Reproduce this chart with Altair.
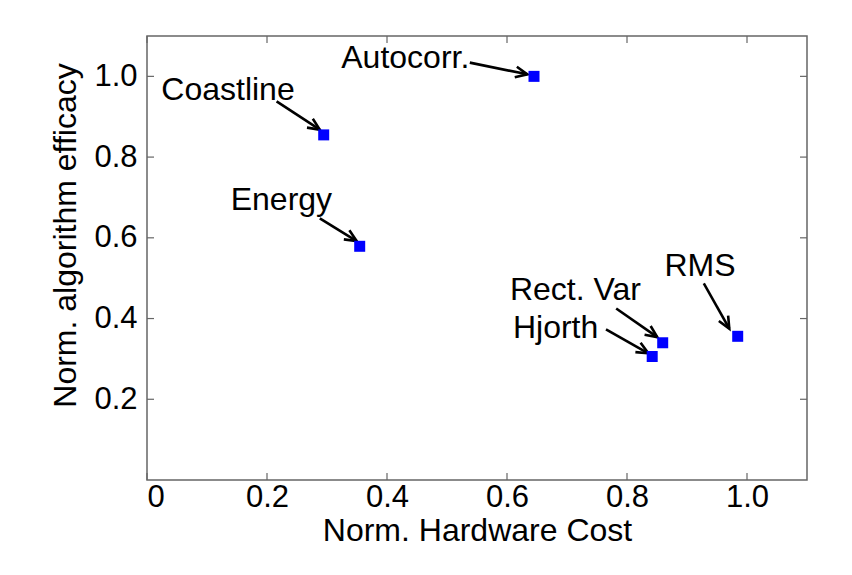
import math
import altair as alt
import pandas as pd

# data points
names = ["Autocorr.", "Coastline", "Energy", "Rect. Var", "Hjorth", "RMS"]
hw_cost = [0.645, 0.2945, 0.3545, 0.8595, 0.842, 0.9845]
efficacy = [1.0, 0.855, 0.579, 0.340, 0.306, 0.356]

# annotation label anchor positions (data coords)
label_x = [0.4305, 0.135, 0.224, 0.714, 0.681, 0.9217]
label_y = [1.020, 0.942, 0.668, 0.445, 0.353, 0.505]

# arrow start / end (data coords)
arrow_x0 = [0.538, 0.216, 0.288, 0.782, 0.765, 0.928]
arrow_y0 = [1.034, 0.938, 0.648, 0.425, 0.373, 0.487]
arrow_x1 = [0.634, 0.288, 0.3495, 0.8505, 0.8355, 0.9705]
arrow_y1 = [1.005, 0.868, 0.592, 0.354, 0.314, 0.375]

x_ticks = [0, 0.2, 0.4, 0.6, 0.8, 1.0]
y_ticks = [0.2, 0.4, 0.6, 0.8, 1.0]

W, H = 660, 444
XDOM = [0, 1.1]
YDOM = [0, 1.1]
FONT = "Liberation Sans"
AXC = "#666666"

# arrowhead angle in screen space
angles = []
for xa, ya, xb, yb in zip(arrow_x0, arrow_y0, arrow_x1, arrow_y1):
    dx = (xb - xa) / (XDOM[1] - XDOM[0]) * W
    dy = -(yb - ya) / (YDOM[1] - YDOM[0]) * H
    angles.append(math.degrees(math.atan2(dy, dx)) % 360)

pts = pd.DataFrame({"name": names, "x": hw_cost, "y": efficacy})
ann = pd.DataFrame({
    "name": names, "lx": label_x, "ly": label_y,
    "x0": arrow_x0, "y0": arrow_y0, "x1": arrow_x1, "y1": arrow_y1,
    "angle": angles,
})
xt = pd.DataFrame({"v": x_ticks})
yt = pd.DataFrame({"v": y_ticks})

xscale = alt.Scale(domain=XDOM, nice=False, zero=False)
yscale = alt.Scale(domain=YDOM, nice=False, zero=False)

xaxis = alt.Axis(
    title="Norm. Hardware Cost", values=x_ticks,
    labelExpr="datum.value == 0 ? '0' : format(datum.value, '.1f')",
    domain=False, ticks=False, tickSize=0, grid=False,
    labelFont=FONT, labelFontSize=31, labelColor="black", labelPadding=2,
    titleFont=FONT, titleFontSize=32, titleFontWeight="normal", titleColor="black",
    titleX=330, titleY=60, titleBaseline="alphabetic", titleAlign="center",
)
yaxis = alt.Axis(
    title="Norm. algorithm efficacy", values=y_ticks, format=".1f",
    domain=False, ticks=False, tickSize=0, grid=False,
    labelFont=FONT, labelFontSize=31, labelColor="black", labelPadding=10,
    titleFont=FONT, titleFontSize=32, titleFontWeight="normal", titleColor="black",
    titleX=-72, titleY=199, titleAngle=270, titleBaseline="alphabetic", titleAlign="center",
)

points = alt.Chart(pts).mark_square(size=121, color="#0000FF", opacity=1).encode(
    x=alt.X("x:Q", scale=xscale, axis=xaxis),
    y=alt.Y("y:Q", scale=yscale, axis=yaxis),
)

arrows = alt.Chart(ann).mark_rule(color="black", strokeWidth=2.6).encode(
    x=alt.X("x0:Q", scale=xscale, axis=xaxis),
    y=alt.Y("y0:Q", scale=yscale, axis=yaxis),
    x2="x1:Q", y2="y1:Q",
)

heads = alt.Chart(ann).mark_point(
    shape="M -1 -0.45 L 0 0 L -1 0.45", filled=False, stroke="black",
    strokeWidth=2.6, size=560, opacity=1, strokeJoin="miter",
).encode(
    x=alt.X("x1:Q", scale=xscale, axis=xaxis),
    y=alt.Y("y1:Q", scale=yscale, axis=yaxis),
    angle=alt.Angle("angle:Q", scale=None),
)

labels = alt.Chart(ann).mark_text(
    font=FONT, fontSize=32, color="black", align="center", baseline="alphabetic",
).encode(
    x=alt.X("lx:Q", scale=xscale, axis=xaxis),
    y=alt.Y("ly:Q", scale=yscale, axis=yaxis),
    text="name:N",
)

TL = 7
left_t = alt.Chart(yt).mark_rule(color=AXC, strokeWidth=1.2).encode(
    y=alt.Y("v:Q", scale=yscale, axis=yaxis), x=alt.value(0), x2=alt.value(TL))
right_t = alt.Chart(yt).mark_rule(color=AXC, strokeWidth=1.2).encode(
    y=alt.Y("v:Q", scale=yscale, axis=yaxis), x=alt.value(W - TL), x2=alt.value(W))
bot_t = alt.Chart(xt).mark_rule(color=AXC, strokeWidth=1.2).encode(
    x=alt.X("v:Q", scale=xscale, axis=xaxis), y=alt.value(H - TL), y2=alt.value(H))
top_t = alt.Chart(xt).mark_rule(color=AXC, strokeWidth=1.2).encode(
    x=alt.X("v:Q", scale=xscale, axis=xaxis), y=alt.value(0), y2=alt.value(TL))

chart = alt.layer(
    left_t, right_t, bot_t, top_t, arrows, heads, points, labels
).properties(
    width=W, height=H,
    autosize=alt.AutoSizeParams(type="none"),
    padding={"left": 139, "top": 28, "right": 37, "bottom": 80},
    background="white",
).configure_view(
    stroke=AXC, strokeWidth=1.5,
)

chart.save("out.html", embed_options={"renderer": "svg", "actions": False})
